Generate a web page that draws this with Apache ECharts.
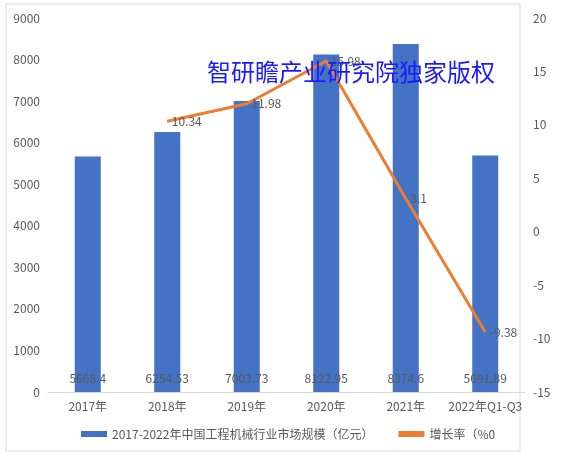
<!DOCTYPE html><html><head><meta charset="utf-8"><script src="https://cdn.jsdelivr.net/npm/echarts@6/dist/echarts.min.js"></script></head><body style="margin:0"><div id="c" style="width:565px;height:455px"></div><script>
const categories=['2017年','2018年','2019年','2020年','2021年','2022年Q1-Q3'];
const marketSize=[5668.4,6254.53,7003.73,8122.95,8374.6,5691.89];
const growth=[null,10.34,11.98,15.98,3.1,-9.38];
const f='"Noto Sans CJK SC", sans-serif';
const ch=echarts.init(document.getElementById('c'));
ch.setOption({
 textStyle:{fontFamily:f},
 graphic:[{type:'rect',z:-1,shape:{x:6,y:4,width:514,height:447},style:{fill:'none',stroke:'#d9d9d9'}},
  {type:'text',z:100,left:207,top:60,style:{text:'智研瞻产业研究院独家版权',fill:'#1a1aff',font:'24px '+f}}],
 grid:{left:48,right:40,top:18,bottom:63},
 legend:{bottom:10,left:76,itemGap:25,itemWidth:26,itemHeight:6,textStyle:{color:'#595959',fontSize:12,fontFamily:f},
  data:[{name:'2017-2022年中国工程机械行业市场规模（亿元）',icon:'rect'},{name:'增长率（%0',icon:'rect'}]},
 xAxis:{type:'category',data:categories,axisTick:{show:false},axisLine:{lineStyle:{color:'#d9d9d9'}},axisLabel:{color:'#595959',fontSize:12,interval:0}},
 yAxis:[{type:'value',min:0,max:9000,interval:1000,splitLine:{show:false},axisLabel:{color:'#595959',fontSize:12,formatter:v=>String(v)}},
  {type:'value',min:-15,max:20,interval:5,splitLine:{show:false},axisLabel:{color:'#595959',fontSize:12}}],
 series:[{name:'2017-2022年中国工程机械行业市场规模（亿元）',type:'bar',data:marketSize,barWidth:26,itemStyle:{color:'#4472c4'},
   label:{show:true,position:'insideBottom',distance:8,color:'#595959',fontSize:12}},
  {name:'增长率（%0',type:'line',yAxisIndex:1,data:growth,symbol:'circle',symbolSize:1,showSymbol:true,lineStyle:{color:'#ed7d31',width:3},itemStyle:{color:'#ed7d31'},
   labelLayout:{hideOverlap:false},
   label:{show:true,position:'right',distance:4,color:'#595959',fontSize:12}}]
});
</script></body></html>
